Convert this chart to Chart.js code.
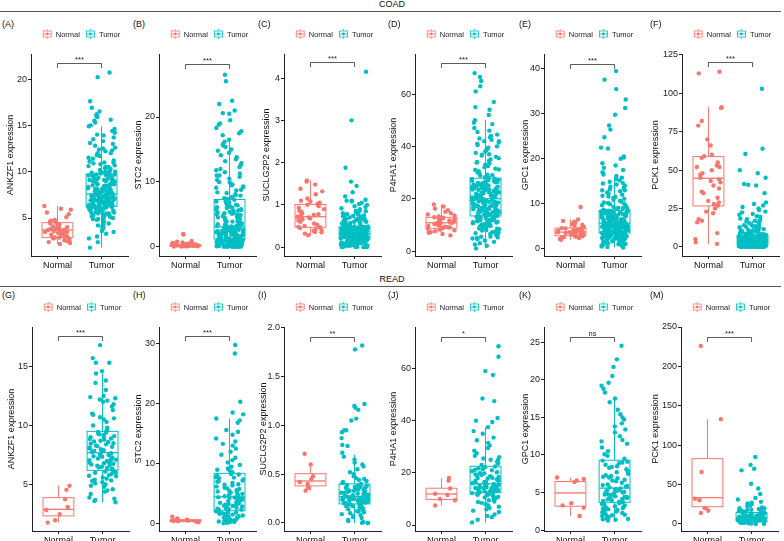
<!DOCTYPE html>
<html>
<head>
<meta charset="utf-8">
<script src="https://cdn.jsdelivr.net/npm/chart.js@4.4.1/dist/chart.umd.min.js"></script>
<style>
  html, body { margin: 0; padding: 0; background: #fff; overflow: hidden; }
  #fig { position: relative; width: 784px; height: 541px; font-family: "Liberation Sans", Arial, sans-serif; }
  .cohort { position: absolute; left: 0; width: 784px; text-align: center; font-size: 9px; line-height: 10px; color: #111; }
  .rule { position: absolute; left: 0; width: 781px; height: 0; border-top: 1px solid #555; }
  .tag { position: absolute; font-size: 9px; line-height: 10px; color: #111; }
  canvas { position: absolute; }
</style>
</head>
<body>
<div id="fig">
  <div class="cohort" style="top:-1px">COAD</div>
  <div class="rule" style="top:11px"></div>
  <div class="cohort" style="top:274px">READ</div>
  <div class="rule" style="top:286px"></div>
</div>
<script>
const groups = ['Normal', 'Tumor'];
const groupColors = ['#F8766D', '#00BFC4'];

// ---- COAD ----
const ankzf1CoadNormal = [3.7,2.9,4.5,3.2,5.1,2.6,3.9,4.2,3.4,6.3,2.2,3.6,4.8,3.0,2.8,3.8,4.4,5.9,3.3,2.5,4.0,3.5,6.0,2.7,4.6,3.1,3.7,5.4,2.4,4.1,3.9,3.6,2.9,4.3,5.6,3.2,2.3,3.8,4.7,3.0,3.5];
const ankzf1CoadTumor = [1.8,2.4,3.0,3.5,3.8,4.0,4.3,4.5,4.7,4.9,5.0,5.1,5.3,5.4,5.5,5.6,5.7,5.8,5.8,5.9,6.0,6.0,6.1,6.1,6.2,4.6,5.2,3.9,5.5,6.2,
  6.3,6.4,6.4,6.5,6.5,6.6,6.6,6.7,6.7,6.8,6.8,6.9,6.9,7.0,7.0,7.1,7.1,7.2,7.2,7.3,7.3,7.4,7.4,7.5,7.5,6.35,6.75,7.05,7.25,7.55,
  7.7,7.8,7.9,8.0,8.0,8.1,8.2,8.3,8.4,8.5,8.5,8.6,8.7,8.8,8.9,9.0,9.0,9.1,9.2,9.3,9.4,9.5,9.6,9.7,7.65,7.95,8.25,8.65,9.15,9.55,
  9.8,9.9,10.0,10.2,10.4,10.6,10.8,11.0,11.2,11.5,11.8,12.0,12.3,12.6,13.0,13.3,13.7,14.0,14.4,14.9,15.3,15.6,15.9,16.2,16.5,16.9,17.6,20.2,20.7,10.5,
  4.1,4.4,4.8,5.0,5.2,5.4,5.5,5.6,5.7,5.8,5.9,6.0,6.1,6.15,6.2,3.6,4.2,4.9,5.3,5.65,5.95,6.05,2.8,3.3,4.7,
  6.3,6.35,6.45,6.55,6.6,6.7,6.8,6.85,6.95,7.0,7.1,7.15,7.2,7.3,7.35,7.45,7.5,7.55,6.4,6.65,6.9,7.15,7.4,6.5,7.05,
  7.65,7.75,7.85,7.95,8.05,8.15,8.3,8.4,8.55,8.65,8.8,8.95,9.05,9.2,9.35,9.5,9.65,9.7,7.7,8.2,8.7,9.1,9.6,8.35,7.9,
  9.8,9.95,10.1,10.3,10.5,10.7,10.9,11.1,11.4,11.7,12.0,12.2,12.5,12.8,13.1,13.5,13.9,14.2,14.6,15.0,15.5,16.0,10.0,11.0,12.4];
const ankzf1CoadBox = [[2.2, 2.9, 3.7, 4.5, 6.3], [1.8, 6.25, 7.6, 9.75, 14.9]];

const stc2CoadNormal = [0.05,0.08,0.1,0.1,0.12,0.12,0.14,0.15,0.15,0.17,0.18,0.19,0.2,0.2,0.21,0.22,0.23,0.25,0.26,0.28,0.3,0.31,0.33,0.35,0.36,0.38,0.4,0.42,0.45,0.5,0.55,0.6,0.7,0.8,0.9,0.25,0.18,0.12,0.3,1.9,2.0];
const stc2CoadTumor = [0.0,0.02,0.05,0.08,0.1,0.12,0.15,0.2,0.25,0.3,0.35,0.4,0.45,0.5,0.55,0.6,0.65,0.7,0.75,0.8,0.85,0.9,0.95,1.0,1.05,1.1,1.15,0.03,0.2,0.6,
  1.2,1.3,1.4,1.5,1.6,1.7,1.8,1.9,2.0,2.1,2.2,2.3,2.4,2.5,2.55,2.6,2.7,2.75,2.8,2.85,2.9,2.95,3.0,3.05,1.45,1.75,2.15,2.45,2.65,3.08,
  3.2,3.4,3.6,3.8,4.0,4.2,4.4,4.6,4.8,5.0,5.2,5.4,5.6,5.8,6.0,6.2,6.4,6.6,6.8,7.0,7.2,3.3,3.9,4.5,5.1,5.7,6.3,6.9,3.5,4.9,
  7.4,7.7,8.0,8.4,8.8,9.2,9.6,10.0,10.5,11.0,11.5,12.0,12.6,13.2,13.8,14.5,15.0,15.4,15.8,16.5,17.2,17.8,18.3,19.5,20.5,21.0,22.0,22.5,25.5,26.5,
  0.0,0.05,0.1,0.15,0.2,0.25,0.3,0.4,0.5,0.6,0.7,0.8,0.9,1.0,1.1,0.0,0.1,0.2,0.35,0.55,0.75,0.95,1.15,0.45,0.65,
  1.25,1.35,1.55,1.65,1.85,1.95,2.05,2.25,2.35,2.5,2.6,2.7,2.8,2.9,3.0,1.3,1.6,1.9,2.2,2.5,2.75,3.05,1.4,2.0,2.65,
  3.15,3.3,3.45,3.7,3.9,4.1,4.3,4.55,4.75,5.0,5.3,5.5,5.75,6.0,6.25,6.5,6.75,7.0,7.25,3.6,4.4,5.2,6.1,6.9,3.25,
  7.5,7.9,8.3,8.7,9.1,9.5,9.9,10.3,10.8,11.3,11.8,12.3,12.9,13.5,14.1,14.8,15.6,16.2,17.5,18.8,19.0,20.6,8.1,9.3,11.0];
const stc2CoadBox = [[0.02, 0.1, 0.2, 0.35, 0.7], [0, 1.2, 3.1, 7.3, 16.3]];

const suclg2p2CoadNormal = [0.28,0.32,0.35,0.38,0.4,0.42,0.45,0.47,0.48,0.5,0.53,0.56,0.6,0.63,0.66,0.68,0.7,0.72,0.72,0.74,0.76,0.78,0.8,0.83,0.86,0.9,0.93,0.97,1.0,1.02,1.05,1.08,1.1,1.15,1.25,1.32,1.38,1.48,1.55,1.58,0.36];
const suclg2p2CoadTumor = [0.0,0.0,0.01,0.02,0.03,0.04,0.05,0.06,0.07,0.08,0.09,0.1,0.11,0.12,0.12,0.13,0.14,0.15,0.15,0.16,0.17,0.17,0.18,0.18,0.19,0.19,0.2,0.05,0.1,0.15,
  0.2,0.21,0.21,0.22,0.22,0.23,0.23,0.24,0.24,0.25,0.25,0.26,0.26,0.27,0.27,0.28,0.28,0.29,0.29,0.3,0.3,0.3,0.31,0.31,0.31,0.32,0.32,0.24,0.27,0.29,
  0.33,0.33,0.34,0.34,0.35,0.35,0.36,0.36,0.37,0.37,0.38,0.38,0.39,0.39,0.4,0.4,0.41,0.41,0.42,0.42,0.43,0.44,0.44,0.45,0.45,0.46,0.46,0.47,0.47,0.48,
  0.49,0.5,0.52,0.54,0.56,0.58,0.6,0.62,0.64,0.66,0.68,0.7,0.72,0.75,0.78,0.8,0.83,0.86,0.9,0.95,1.0,1.05,1.1,1.12,1.2,1.3,1.45,1.55,1.88,3.0,4.15,
  0.0,0.01,0.02,0.03,0.04,0.06,0.07,0.08,0.09,0.1,0.11,0.12,0.13,0.14,0.15,0.16,0.17,0.18,0.19,0.195,0.0,0.05,0.1,0.15,0.18,
  0.2,0.21,0.22,0.23,0.24,0.25,0.26,0.27,0.28,0.29,0.3,0.31,0.315,0.22,0.24,0.26,0.28,0.3,0.205,0.225,0.245,0.265,0.285,0.305,0.25,
  0.33,0.34,0.35,0.36,0.37,0.38,0.39,0.4,0.41,0.42,0.43,0.44,0.45,0.46,0.47,0.475,0.335,0.355,0.375,0.395,0.415,0.435,0.455,0.365,0.405,
  0.49,0.51,0.53,0.55,0.57,0.6,0.63,0.66,0.7,0.74,0.78,0.82,0.88,0.92,0.97,1.02,1.08,1.1,0.5,0.55,0.61,0.67,0.73,0.85,0.6];
const suclg2p2CoadBox = [[0.28, 0.47, 0.72, 1.01, 1.58], [0, 0.2, 0.32, 0.48, 0.9]];

const p4ha1CoadNormal = [6.0,6.5,7.0,7.3,7.6,7.9,8.2,8.5,8.7,8.9,9.1,9.3,9.6,9.9,10.1,10.3,10.5,10.7,10.8,10.9,11.1,11.3,11.5,11.7,11.9,12.1,12.3,12.5,12.7,12.9,13.2,13.6,14.0,14.5,15.0,15.6,16.2,17.0,17.8,9.0,11.0];
const p4ha1CoadTumor = [1.0,2.5,3.5,4.5,5.0,5.5,6.0,6.5,7.0,7.5,8.0,8.5,9.0,9.3,9.6,10.0,10.3,10.6,10.9,11.2,11.5,11.8,12.0,12.3,12.6,12.9,13.2,5.2,8.3,11.0,
  13.5,13.8,14.0,14.3,14.6,14.9,15.2,15.5,15.8,16.0,16.3,16.6,16.9,17.2,17.5,17.8,18.0,18.3,18.6,18.9,19.2,19.5,19.7,19.9,14.1,15.0,16.1,17.0,18.1,19.0,
  20.2,20.5,20.8,21.2,21.6,22.0,22.4,22.8,23.2,23.6,24.0,24.4,24.8,25.2,25.6,26.0,26.4,26.8,27.2,27.6,20.6,21.4,22.6,23.4,24.6,25.4,26.6,27.4,21.0,25.0,
  28.2,29.0,30.0,31.0,32.0,33.0,34.0,35.0,36.0,37.0,38.0,39.0,40.0,41.0,42.0,43.0,44.0,45.5,47.0,48.5,50.0,52.0,54.0,55.0,57.0,61.0,63.0,65.0,66.5,68.0,
  2.0,3.0,4.0,5.5,6.2,7.2,7.8,8.6,9.2,9.8,10.2,10.7,11.0,11.4,11.7,12.1,12.4,12.7,13.0,13.3,6.8,8.9,10.4,11.9,4.8,
  13.6,13.9,14.2,14.5,14.8,15.1,15.4,15.7,16.2,16.5,16.8,17.1,17.4,17.7,18.2,18.5,18.8,19.1,19.4,19.8,14.4,15.6,16.4,17.6,18.7,
  20.3,20.7,21.1,21.5,21.9,22.3,22.7,23.1,23.5,23.9,24.3,24.7,25.1,25.5,25.9,26.3,26.7,27.1,27.5,20.9,22.1,23.8,25.3,26.9,24.1,
  28.0,28.8,29.6,30.5,31.5,32.5,33.5,34.5,35.5,36.5,37.5,38.5,39.5,40.5,41.5,42.5,43.5,44.5,46.0,49.0,29.2,31.2,33.8,36.8,42.0];
const p4ha1CoadBox = [[6.0, 8.7, 10.8, 12.9, 17.8], [1.0, 13.4, 20.0, 27.8, 50.0]];

const gpc1CoadNormal = [2.0,2.2,2.4,2.5,2.6,2.7,2.8,2.9,3.0,3.1,3.2,3.3,3.4,3.5,3.5,3.6,3.7,3.7,3.8,3.9,4.0,4.1,4.2,4.3,4.4,4.5,4.6,4.7,4.9,5.1,5.3,5.5,5.8,6.0,6.2,6.5,9.3,3.3,2.6,4.0,3.0];
const gpc1CoadTumor = [0.3,0.5,0.7,0.9,1.0,1.2,1.4,1.5,1.7,1.8,2.0,2.1,2.2,2.3,2.4,2.5,2.6,2.7,2.8,2.9,3.0,3.1,3.2,3.3,3.4,1.1,1.6,2.2,2.7,3.3,
  3.6,3.7,3.8,3.9,4.0,4.1,4.2,4.3,4.4,4.5,4.6,4.7,4.8,4.9,5.0,5.1,5.2,5.3,5.4,5.5,5.6,3.75,4.05,4.35,4.65,4.95,5.25,5.55,3.65,5.65,
  5.8,5.9,6.0,6.1,6.2,6.4,6.5,6.6,6.8,6.9,7.0,7.1,7.2,7.4,7.5,7.6,7.7,7.8,7.9,8.0,8.1,8.2,8.3,8.4,6.3,6.7,7.3,7.85,8.45,5.95,
  8.6,8.9,9.2,9.5,9.9,10.3,10.7,11.1,11.5,12.0,12.5,13.0,13.5,14.0,14.6,15.2,15.8,16.5,17.5,18.5,19.0,20.0,20.5,22.3,22.5,24.8,26.5,27.4,29.8,31.3,33.2,35.5,37.6,39.5,
  0.4,0.6,0.8,1.0,1.3,1.5,1.7,1.9,2.0,2.2,2.4,2.5,2.6,2.8,2.9,3.0,3.1,3.2,3.3,3.4,1.2,1.8,2.3,2.75,3.15,
  3.55,3.7,3.85,4.0,4.15,4.3,4.45,4.6,4.75,4.9,5.05,5.2,5.35,5.5,5.6,3.6,3.95,4.25,4.55,4.85,5.15,5.45,4.1,4.7,5.3,
  5.75,5.85,6.0,6.15,6.3,6.45,6.6,6.75,6.9,7.05,7.2,7.35,7.5,7.65,7.8,7.95,8.1,8.25,8.4,6.05,6.55,7.0,7.55,8.0,8.35,
  8.7,9.0,9.3,9.7,10.0,10.5,10.9,11.3,11.8,12.3,12.8,13.2,13.8,14.3,14.9,15.5,16.2,17.0,18.0,9.1,10.2,11.6,13.0,14.5,20.3];
const gpc1CoadBox = [[2.0, 2.9, 3.7, 4.6, 6.5], [0.3, 3.5, 5.7, 8.5, 16.0]];

const pck1CoadNormal = [2,3,5,9,16,17,18,22,23,25,27,28,29,30,32,35,38,40,42,43,44,45,47,50,52,52,53,55,58,59,60,66,70,79,82,90.5,91,113,114,48,36];
const pck1CoadTumor = [0,0,0.05,0.1,0.15,0.2,0.25,0.3,0.35,0.4,0.45,0.5,0.55,0.6,0.65,0.7,0.75,0.8,0.85,0.9,0.95,1.0,1.05,1.1,1.15,1.2,1.25,0.1,0.5,0.9,
  1.4,1.5,1.6,1.7,1.8,1.9,2.0,2.1,2.2,2.3,2.4,2.5,2.6,2.7,2.8,2.9,3.0,3.1,3.2,3.3,3.4,3.5,3.6,3.7,3.8,3.9,4.0,1.55,2.45,3.35,
  4.2,4.3,4.4,4.5,4.6,4.7,4.8,4.9,5.0,5.1,5.2,5.3,5.4,5.5,5.6,5.7,5.8,5.9,6.0,6.2,6.4,6.6,6.8,7.0,7.2,7.4,4.45,5.15,5.85,6.5,
  7.8,8.2,8.6,9.0,9.5,10.0,10.5,11.0,11.6,12.2,12.8,13.5,14.2,15.0,16.0,17.0,18.0,19.5,21.0,22.5,24.0,26.0,28.0,29.0,35.0,40.0,40.5,41.0,45.0,48.0,50.0,60.5,64.0,103.0,
  0,0,0.05,0.1,0.15,0.2,0.3,0.4,0.5,0.6,0.7,0.8,0.9,1.0,1.1,1.2,0.0,0.25,0.45,0.65,0.85,1.05,0.35,0.75,1.15,
  1.35,1.45,1.65,1.75,1.95,2.05,2.25,2.35,2.55,2.65,2.85,2.95,3.15,3.25,3.45,3.55,3.75,3.85,3.95,1.5,2.0,2.5,3.0,3.5,4.05,
  4.15,4.35,4.55,4.75,4.95,5.15,5.35,5.55,5.75,5.95,6.15,6.35,6.55,6.75,6.95,7.15,7.35,7.55,4.25,4.85,5.45,6.05,6.65,7.25,5.0,
  7.7,8.0,8.4,8.8,9.3,9.8,10.3,10.8,11.3,11.9,12.5,13.2,13.9,14.6,15.5,16.5,17.5,18.5,20.0,21.5,23.0,25.0,27.0,8.6,10.0];
const pck1CoadBox = [[2, 26.7, 44.7, 58.8, 91], [0, 1.3, 4.1, 7.6, 17]];

// ---- READ ----
const ankzf1ReadNormal = [1.78,4.9,2.5,4.55,1.98,3.75,2.85,3.1];
const ankzf1ReadTumor = [3.5,3.6,3.7,3.9,4.2,4.4,4.6,4.8,4.9,5.0,5.1,5.2,5.3,5.4,5.5,5.6,5.7,5.8,5.9,6.0,6.0,6.1,6.1,4.5,5.35,5.75,3.8,
  6.25,6.3,6.4,6.45,6.5,6.6,6.65,6.7,6.8,6.85,6.9,7.0,7.05,7.1,7.2,7.25,7.3,7.4,7.45,7.5,7.6,7.65,6.35,6.75,6.95,7.15,7.35,
  7.8,7.9,8.0,8.1,8.2,8.3,8.4,8.5,8.6,8.7,8.8,8.9,9.0,9.1,9.2,9.3,9.4,9.45,7.85,8.05,8.25,8.45,8.65,8.85,9.05,9.25,7.75,
  9.6,9.8,10.0,10.3,10.6,10.7,10.9,11.0,11.3,11.6,11.8,12.0,12.1,12.2,12.3,12.4,12.5,13.0,13.6,13.8,14.4,14.6,15.3,15.3,15.7,16.8,10.5];
const ankzf1ReadBox = [[1.78, 2.35, 2.9, 3.89, 4.9], [3.5, 6.2, 7.7, 9.5, 14.4]];

const stc2ReadNormal = [0.3,0.9,0.45,1.2,0.5,0.55,0.4,0.7,0.6];
const stc2ReadTumor = [0.1,0.2,0.3,0.4,0.5,0.6,0.7,0.8,0.9,1.0,1.1,1.2,1.3,1.4,1.5,1.6,1.7,1.8,1.9,2.0,2.1,0.35,0.75,1.15,1.55,1.95,0.55,
  2.3,2.4,2.5,2.6,2.7,2.8,2.9,3.0,3.1,3.2,3.3,3.4,3.5,3.6,3.7,3.8,3.9,4.0,4.1,4.2,4.3,4.4,2.55,3.05,3.55,4.05,4.45,
  4.6,4.8,5.0,5.2,5.4,5.6,5.8,6.0,6.2,6.4,6.6,6.8,7.0,7.2,7.4,7.6,7.8,8.0,8.2,4.7,5.1,5.5,5.9,6.5,7.1,7.7,8.3,
  8.6,8.9,9.2,9.5,9.8,10.2,10.6,11.0,11.5,12.0,12.5,13.0,13.3,13.7,14.2,14.8,15.3,15.6,16.8,17.2,17.5,18.2,18.5,20.3,28.3,29.7,9.0];
const stc2ReadBox = [[0.3, 0.4, 0.6, 0.7, 1.0], [0.1, 2.2, 4.5, 8.4, 17.5]];

const suclg2p2ReadNormal = [0.71,0.36,0.6,0.42,0.48,0.33,0.45,0.4];
const suclg2p2ReadTumor = [0.0,0.0,0.01,0.02,0.03,0.05,0.06,0.08,0.09,0.1,0.11,0.12,0.13,0.14,0.15,0.15,0.16,0.17,0.17,0.18,0.18,0.19,0.19,0.12,0.16,0.0,0.07,
  0.2,0.205,0.21,0.215,0.22,0.225,0.23,0.235,0.24,0.245,0.25,0.25,0.255,0.26,0.26,0.265,0.21,0.22,0.23,0.24,0.25,0.26,0.2,0.215,0.235,0.245,0.265,
  0.28,0.29,0.3,0.3,0.31,0.32,0.32,0.33,0.34,0.34,0.35,0.35,0.36,0.36,0.37,0.37,0.38,0.38,0.39,0.39,0.4,0.29,0.31,0.33,0.35,0.37,0.285,
  0.41,0.42,0.43,0.44,0.45,0.46,0.48,0.5,0.52,0.55,0.58,0.6,0.62,0.65,0.68,0.72,0.79,0.8,0.87,0.93,0.95,0.95,1.05,1.07,1.16,1.18,1.2,1.22,1.78,1.82];
const suclg2p2ReadBox = [[0.33, 0.38, 0.43, 0.505, 0.6], [0, 0.195, 0.27, 0.4, 0.7]];

const p4ha1ReadNormal = [18,9.5,14,7.5,12,17,10,11.5];
const p4ha1ReadTumor = [1.0,2.0,3.0,4.0,5.0,6.0,6.5,7.0,7.5,8.0,8.5,9.0,9.5,10.0,10.3,10.6,10.9,11.2,11.5,11.8,12.0,12.2,5.5,8.8,10.8,11.6,3.5,
  12.5,12.7,12.9,13.1,13.3,13.5,13.7,13.9,14.1,14.3,14.5,14.7,14.9,15.1,15.3,15.5,15.7,12.6,13.0,13.4,13.8,14.2,14.6,15.0,15.4,12.8,14.0,
  16.0,16.3,16.6,16.9,17.2,17.5,17.8,18.1,18.4,18.7,19.0,19.4,19.8,20.2,20.6,21.0,21.4,21.8,22.2,16.5,17.0,18.0,19.2,20.0,21.2,22.4,15.9,
  23.0,23.6,24.2,24.8,25.5,26.0,26.5,27.5,28.5,29.5,30.5,31.5,32.5,33.5,35.0,36.0,37.5,39.5,40.0,41.0,47.5,48.5,57.5,59.0,64.5,68.5,25.0];
const p4ha1ReadBox = [[7.5, 9.8, 11.9, 14.1, 18], [1.0, 12.4, 15.8, 22.5, 37.5]];

const gpc1ReadNormal = [7.0,3.3,6.6,1.9,6.8,3.6,6.4,3.0];
const gpc1ReadTumor = [1.3,1.4,1.5,1.6,1.7,1.8,1.9,2.0,2.1,2.2,2.3,2.4,2.5,2.6,2.7,2.8,2.9,3.0,3.1,3.2,3.3,3.4,3.5,3.6,1.45,2.05,2.95,
  3.75,3.8,3.9,4.0,4.1,4.2,4.3,4.4,4.5,4.6,4.7,4.8,4.9,5.0,5.1,5.2,5.3,5.4,5.5,3.85,4.15,4.45,4.75,5.05,5.35,5.55,4.25,
  5.7,5.9,6.1,6.3,6.5,6.7,6.9,7.1,7.3,7.5,7.7,7.9,8.1,8.3,8.5,8.7,8.9,9.1,9.25,6.0,6.6,7.2,7.8,8.4,9.0,5.8,7.0,
  9.5,9.9,10.1,10.5,11.0,11.5,11.8,12.0,12.5,13.0,13.4,13.8,14.2,14.7,15.0,15.4,16.0,17.0,17.5,18.3,18.8,19.2,19.6,20.5,21.7,22.7,24.5];
const gpc1ReadBox = [[1.9, 3.19, 4.96, 6.47, 7.0], [1.3, 3.7, 5.6, 9.3, 17.5]];

const pck1ReadNormal = [226,17,133,30,66,14,32,20];
const pck1ReadTumor = [0.0,0.2,0.5,0.8,1.0,1.3,1.6,1.9,2.2,2.5,2.7,2.9,3.1,3.3,3.5,3.7,3.9,4.0,4.1,4.2,4.3,4.4,4.5,4.6,1.5,3.0,4.25,
  4.8,4.9,5.0,5.1,5.2,5.3,5.4,5.5,5.6,5.7,5.8,5.9,6.0,6.2,6.4,6.6,6.8,7.0,7.2,7.4,7.6,5.05,5.45,5.85,6.3,6.9,7.5,
  7.9,8.2,8.5,8.8,9.1,9.4,9.7,10.0,10.3,10.6,10.9,11.2,11.5,11.8,12.1,12.4,12.7,13.0,13.3,13.6,13.9,14.2,14.4,8.0,9.0,11.0,13.0,
  15.0,15.5,16.0,16.5,17.0,17.5,18.0,19.0,20.0,21.0,22.0,23.0,24.0,25.0,26.0,27.0,28.0,31.0,33.0,38.0,45.0,51.0,68.0,70.0,75.0,85.0,19.5];
const pck1ReadBox = [[14, 21.8, 33.3, 82.9, 133], [0, 3.5, 7.7, 14.5, 28]];

// y tick labels per panel
const ticksA = [5, 10, 15, 20], ticksB = [0, 10, 20], ticksC = [0, 1, 2, 3, 4];
const ticksD = [0, 20, 40, 60], ticksE = [0, 10, 20, 30, 40], ticksF = [0, 25, 50, 75, 100, 125];
const ticksG = [5, 10, 15], ticksH = [0, 10, 20, 30], ticksI = [0, 0.5, 1, 1.5, 2];
const ticksJ = [0, 20, 40, 60], ticksK = [0, 5, 10, 15, 20, 25], ticksM = [0, 50, 100, 150, 200, 250];

// significance labels and bracket levels
const sigLabels = ['***', '***', '***', '***', '***', '***', '***', '***', '**', '*', 'ns', '***'];
const bracketLevels = [21.7, 28.1, 4.37, 71.7, 41.1, 120.2, 17.6, 31.2, 1.91, 72.1, 25.7, 237.6];

const panels = [
  { tag: '(A)', gene: 'ANKZF1', normal: ankzf1CoadNormal, tumor: ankzf1CoadTumor, box: ankzf1CoadBox, ticks: ticksA, dec: 0, yRange: [0.9, 22.7], row: 0, tagX: 2, titleX: 10, axisX: 31 },
  { tag: '(B)', gene: 'STC2', normal: stc2CoadNormal, tumor: stc2CoadTumor, box: stc2CoadBox, ticks: ticksB, dec: 0, yRange: [-1.4, 29.7], row: 0, tagX: 133, titleX: 138, axisX: 159 },
  { tag: '(C)', gene: 'SUCLG2P2', normal: suclg2p2CoadNormal, tumor: suclg2p2CoadTumor, box: suclg2p2CoadBox, ticks: ticksC, dec: 0, yRange: [-0.21, 4.57], row: 0, tagX: 258, titleX: 266, axisX: 284 },
  { tag: '(D)', gene: 'P4HA1', normal: p4ha1CoadNormal, tumor: p4ha1CoadTumor, box: p4ha1CoadBox, ticks: ticksD, dec: 0, yRange: [-1.9, 75.3], row: 0, tagX: 388, titleX: 393, axisX: 415 },
  { tag: '(E)', gene: 'GPC1', normal: gpc1CoadNormal, tumor: gpc1CoadTumor, box: gpc1CoadBox, ticks: ticksE, dec: 0, yRange: [-1.6, 43.3], row: 0, tagX: 519, titleX: 525, axisX: 544 },
  { tag: '(F)', gene: 'PCK1', normal: pck1CoadNormal, tumor: pck1CoadTumor, box: pck1CoadBox, ticks: ticksF, dec: 0, yRange: [-5.9, 125.6], row: 0, tagX: 650, titleX: 655, axisX: 682 },
  { tag: '(G)', gene: 'ANKZF1', normal: ankzf1ReadNormal, tumor: ankzf1ReadTumor, box: ankzf1ReadBox, ticks: ticksG, dec: 0, yRange: [1.07, 18.33], row: 1, tagX: 2, titleX: 11, axisX: 32 },
  { tag: '(H)', gene: 'STC2', normal: stc2ReadNormal, tumor: stc2ReadTumor, box: stc2ReadBox, ticks: ticksH, dec: 0, yRange: [-1.17, 32.7], row: 1, tagX: 133, titleX: 138, axisX: 159 },
  { tag: '(I)', gene: 'SUCLG2P2', normal: suclg2p2ReadNormal, tumor: suclg2p2ReadTumor, box: suclg2p2ReadBox, ticks: ticksI, dec: 1, yRange: [-0.083, 2.01], row: 1, tagX: 258, titleX: 263, axisX: 284 },
  { tag: '(J)', gene: 'P4HA1', normal: p4ha1ReadNormal, tumor: p4ha1ReadTumor, box: p4ha1ReadBox, ticks: ticksJ, dec: 0, yRange: [-2.3, 75.9], row: 1, tagX: 388, titleX: 393, axisX: 415 },
  { tag: '(K)', gene: 'GPC1', normal: gpc1ReadNormal, tumor: gpc1ReadTumor, box: gpc1ReadBox, ticks: ticksK, dec: 0, yRange: [-0.1, 27.0], row: 1, tagX: 519, titleX: 525, axisX: 544 },
  { tag: '(M)', gene: 'PCK1', normal: pck1ReadNormal, tumor: pck1ReadTumor, box: pck1ReadBox, ticks: ticksM, dec: 0, yRange: [-9, 250], row: 1, tagX: 650, titleX: 655, axisX: 681 }
];

const rowTop = [14, 289];
const rowPadTop = [40, 38];
const rowTagTop = [19, 290];
const BOX_HALF = 0.35;
const JITTER = 0.62;
const FONT = '"Liberation Sans", Arial, sans-serif';

Chart.defaults.font.family = FONT;

// sideways spread of the points: a fixed hash of the point index, so the
// layout is the same on every render
function jitter(i, k) {
  const h = Math.sin((i + 1) * 12.9898 + (k + 1) * 78.233) * 43758.5453;
  return (h - Math.floor(h) - 0.5) * JITTER;
}

function decorPlugin(p, idx) {
  return {
    id: 'decor' + idx,
    beforeDatasetsDraw(chart) {
      const { ctx, scales: { x, y } } = chart;
      p.box.forEach((b, k) => {
        const [lo, q1, med, q3, hi] = b;
        const xc = x.getPixelForValue(k + 1);
        const xl = x.getPixelForValue(k + 1 - BOX_HALF);
        const xr = x.getPixelForValue(k + 1 + BOX_HALF);
        ctx.save();
        ctx.strokeStyle = groupColors[k];
        ctx.lineWidth = 1;
        ctx.beginPath();
        ctx.moveTo(xc, y.getPixelForValue(q3)); ctx.lineTo(xc, y.getPixelForValue(hi));
        ctx.moveTo(xc, y.getPixelForValue(q1)); ctx.lineTo(xc, y.getPixelForValue(lo));
        ctx.stroke();
        ctx.strokeRect(xl, y.getPixelForValue(q3), xr - xl, y.getPixelForValue(q1) - y.getPixelForValue(q3));
        ctx.lineWidth = 1.3;
        ctx.beginPath();
        ctx.moveTo(xl, y.getPixelForValue(med)); ctx.lineTo(xr, y.getPixelForValue(med));
        ctx.stroke();
        ctx.restore();
      });
    },
    afterDraw(chart) {
      const { ctx, chartArea, scales: { x, y } } = chart;
      ctx.save();
      // comparison bracket
      const by = Math.round(y.getPixelForValue(bracketLevels[idx])) + 0.5;
      const x1 = x.getPixelForValue(1), x2 = x.getPixelForValue(2);
      ctx.strokeStyle = '#333';
      ctx.lineWidth = 0.8;
      ctx.beginPath();
      ctx.moveTo(x1, by + 4.5); ctx.lineTo(x1, by); ctx.lineTo(x2, by); ctx.lineTo(x2, by + 4.5);
      ctx.stroke();
      ctx.fillStyle = '#222';
      ctx.font = '7.5px ' + FONT;
      ctx.textAlign = 'center';
      ctx.textBaseline = 'alphabetic';
      ctx.fillText(sigLabels[idx], (x1 + x2) / 2, by - 2);

      // legend
      ctx.font = '7.5px ' + FONT;
      const ly = chartArea.top - 20;
      const iconW = 9, gapIcon = 4, gapItem = 6;
      const widths = groups.map(g => ctx.measureText(g).width);
      const total = 2 * (iconW + gapIcon) + widths[0] + widths[1] + gapItem;
      let lx = (chartArea.left + chartArea.right) / 2 + 2 - total / 2;
      groups.forEach((g, k) => {
        const c = groupColors[k];
        ctx.strokeStyle = c; ctx.fillStyle = c; ctx.lineWidth = 0.8;
        ctx.strokeRect(lx + 0.5, ly - 3, iconW - 1, 6);
        ctx.beginPath();
        ctx.moveTo(lx + 0.5, ly); ctx.lineTo(lx + iconW - 0.5, ly);
        ctx.moveTo(lx + iconW / 2, ly - 5); ctx.lineTo(lx + iconW / 2, ly - 3);
        ctx.moveTo(lx + iconW / 2, ly + 3); ctx.lineTo(lx + iconW / 2, ly + 5);
        ctx.stroke();
        ctx.beginPath(); ctx.arc(lx + iconW / 2, ly, 1.4, 0, Math.PI * 2); ctx.fill();
        lx += iconW + gapIcon;
        ctx.fillStyle = '#222';
        ctx.textAlign = 'left';
        ctx.textBaseline = 'middle';
        ctx.fillText(g, lx, ly + 0.5);
        lx += widths[k] + gapItem;
      });
      ctx.restore();
    }
  };
}

const fig = document.getElementById('fig');

panels.forEach((p, idx) => {
  const tag = document.createElement('div');
  tag.className = 'tag';
  tag.textContent = p.tag;
  tag.style.left = p.tagX + 'px';
  tag.style.top = rowTagTop[p.row] + 'px';
  fig.appendChild(tag);

  const left = Math.round(p.titleX - 6.4);
  const yW = p.axisX - left;
  const cv = document.createElement('canvas');
  cv.width = yW + 99 + 2;
  cv.height = 260;
  cv.style.left = left + 'px';
  cv.style.top = rowTop[p.row] + 'px';
  fig.appendChild(cv);

  const axisGrid = { display: true, drawOnChartArea: false, drawTicks: true, tickLength: 3, color: '#222' };
  const axisBorder = { display: true, color: '#222', width: 1 };

  new Chart(cv, {
    type: 'scatter',
    data: {
      datasets: groups.map((g, k) => ({
        label: g,
        data: (k ? p.tumor : p.normal).map((v, i) => ({ x: k + 1 + jitter(i, k + idx), y: v })),
        backgroundColor: groupColors[k],
        borderWidth: 0,
        pointRadius: 2.2
      }))
    },
    options: {
      responsive: false,
      animation: false,
      events: [],
      layout: { padding: { top: rowPadTop[p.row], right: 2, left: 0, bottom: 0 } },
      plugins: { legend: { display: false }, tooltip: { enabled: false } },
      scales: {
        x: {
          type: 'linear', min: 0.4, max: 2.6,
          afterBuildTicks: s => { s.ticks = [{ value: 1 }, { value: 2 }]; },
          afterFit: s => { s.height = 18; },
          ticks: { callback: v => groups[v - 1], color: '#111', font: { size: 9 }, padding: 1, maxRotation: 0 },
          grid: axisGrid,
          border: axisBorder
        },
        y: {
          min: p.yRange[0], max: p.yRange[1],
          afterBuildTicks: s => { s.ticks = p.ticks.map(v => ({ value: v })); },
          afterFit: s => { s.width = yW; },
          ticks: { callback: v => v.toFixed(p.dec), color: '#222', font: { size: 9 }, padding: 1 },
          title: { display: true, text: p.gene + ' expression', color: '#111', font: { size: 9 }, padding: { top: 1, bottom: 0 } },
          grid: axisGrid,
          border: axisBorder
        }
      }
    },
    plugins: [decorPlugin(p, idx)]
  });
});
</script>
</body>
</html>
